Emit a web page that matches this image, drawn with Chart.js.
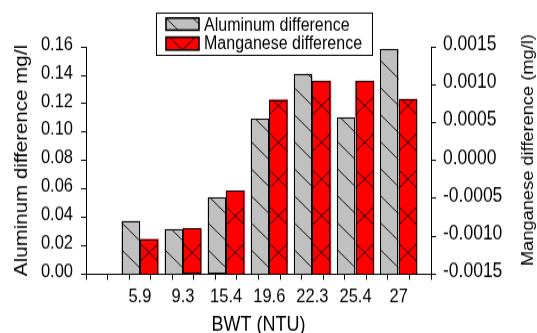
<!DOCTYPE html>
<html>
<head>
<meta charset="utf-8">
<script src="https://cdn.jsdelivr.net/npm/chart.js@4"></script>
<style>
html{margin:0;padding:0;overflow:hidden;background:#fff;}
body{margin:0;padding:0;height:333px;background:#fff;}
#chart{display:block;transform:scaleY(1.1404);transform-origin:0 0;}
</style>
</head>
<body>
<canvas id="chart" width="537" height="292"></canvas>
<script>

const categories = ["5.9","9.3","15.4","19.6","22.3","25.4","27"];
const aluminum = [0.0374,0.0315,0.0538,0.1093,0.141,0.1102,0.1584];
const manganese = [-0.00104,-0.0009,-0.0004,0.0008,0.00105,0.00105,0.00081];

const seriesLabels = ["Aluminum difference","Manganese difference"];
const leftRange = [0,0.16,0.02];
const rightRange = [-0.0015,0.0015,0.0005];

const xTitle = "BWT (NTU)";
const leftTitle = "Aluminum difference mg/l";
const rightTitle = "Manganese difference (mg/l)";

const FONT = "'Liberation Sans', Arial, sans-serif";
const K = 1/1.1404;


function diagLines(ctx, left, top, w, h, anchor, spacing){

ctx.beginPath();
for(let y0 = anchor + spacing*20; y0 > top - w*K - spacing; y0 -= spacing){
if(y0 > top + h + spacing) continue;
ctx.moveTo(left, y0);
ctx.lineTo(left + w, y0 + w*K);
}
ctx.stroke();

}


function crossLines(ctx, left, top, w, h, cx, anchor, spacing){

ctx.beginPath();
for(let yc = anchor + spacing*20; yc > top - w*K - spacing; yc -= spacing){
if(yc > top + h + w*K + spacing) continue;
ctx.moveTo(left, yc - (cx-left)*K);
ctx.lineTo(left + w, yc + (left + w - cx)*K);
ctx.moveTo(left, yc + (cx-left)*K);
ctx.lineTo(left + w, yc - (left + w - cx)*K);
}
ctx.stroke();

}


function hatch(ctx, kind, left, top, w, h, anchor){

ctx.save();
ctx.beginPath();
ctx.rect(left, top, w, h);
ctx.clip();
ctx.strokeStyle = "#000";
ctx.lineWidth = 0.9;

if(kind === "diag") diagLines(ctx, left, top, w, h, anchor, 23.7);
else crossLines(ctx, left, top, w, h, left + w/2, anchor, 32.2);

ctx.restore();

}


const hatchPlugin = {

id:"hatch",

afterDatasetsDraw(chart){

const ctx = chart.ctx;

chart.data.datasets.forEach((ds, i) => {

const meta = chart.getDatasetMeta(i);

meta.data.forEach(bar => {

const p = bar.getProps(["x","y","base","width"], true);
const left = p.x - p.width/2;
const top = Math.min(p.y, p.base);
const h = Math.abs(p.base - p.y);

if(ds.hatch === "diag") hatch(ctx, "diag", left, top, p.width, h, p.base - 21);
else hatch(ctx, "cross", left, top, p.width, h, p.base - 18.4);

ctx.save();
ctx.strokeStyle = "#000";
ctx.lineWidth = 1;
ctx.strokeRect(Math.round(left)+0.5, Math.round(top)+0.5, Math.round(p.width)-1, Math.round(h));
ctx.restore();

});

});

}

};


const legendPlugin = {

id:"boxLegend",

afterDraw(chart){

const ctx = chart.ctx;

ctx.save();
ctx.fillStyle = "#fff";
ctx.fillRect(156, 11, 216, 37);
ctx.strokeStyle = "#000";
ctx.lineWidth = 1;
ctx.strokeRect(156.5, 11.5, 216, 37);

const rows = [[15.8, 10.6, 22.4],[32.6, 11.2, 38.6]];

chart.data.datasets.forEach((ds, i) => {

const r = rows[i];

ctx.fillStyle = ds.backgroundColor;
ctx.fillRect(166, r[0], 33, r[1]);

if(ds.hatch === "diag") hatch(ctx, "diag", 166, r[0], 33, r[1], r[0]);
else hatch(ctx, "cross", 166, r[0], 33, r[1], r[0] + r[1]);

ctx.strokeStyle = "#000";
ctx.lineWidth = 1.6;
ctx.strokeRect(166, r[0], 33, r[1]);

ctx.fillStyle = "#000";
ctx.font = "16px " + FONT;
ctx.textAlign = "left";
ctx.textBaseline = "middle";
ctx.fillText(ds.label, 204, r[2]);

});

ctx.translate(529, 131.6);
ctx.rotate(-Math.PI/2);
ctx.fillStyle = "#000";
ctx.font = "16px " + FONT;
ctx.textAlign = "center";
ctx.textBaseline = "middle";
ctx.fillText(rightTitle, 0, 0);

ctx.restore();

}

};


const ctx = document.getElementById("chart").getContext("2d");

new Chart(ctx,{

type:"bar",

data:{
datasets:[
{
label:seriesLabels[0],
data:aluminum.map((v, i) => ({x:i+1, y:v})),
backgroundColor:"#c0c0c0",
borderWidth:0,
yAxisID:"y",
stack:"al",
hatch:"diag"
},
{
label:seriesLabels[1],
data:manganese.map((v, i) => ({x:i+1, y:v})),
backgroundColor:"#ff0000",
borderWidth:0,
yAxisID:"y1",
stack:"mn",
base:rightRange[0],
hatch:"cross"
}
]
},

options:{
responsive:false,
animation:false,
devicePixelRatio:1,
barThickness:18.4,
layout:{padding:{top:41.2,left:0,right:0,bottom:0}},
plugins:{
legend:{display:false},
tooltip:{enabled:false}
},
scales:{
x:{
type:"linear",
min:0,
max:7.5,
afterFit(scale){ scale.height = 51.7; },
grid:{drawOnChartArea:false,color:"#000",tickColor:"#000",tickLength:5,tickWidth:1},
border:{display:true,color:"#000",width:1},
ticks:{
stepSize:0.5,
autoSkip:false,
maxRotation:0,
padding:5,
color:"#000",
font:{family:FONT,size:16.5},
callback:(v) => (Number.isInteger(v) && v >= 1 && v <= categories.length) ? categories[v-1] : ""
},
title:{display:true,text:xTitle,color:"#000",font:{family:FONT,size:18,lineHeight:0.74},padding:{top:0,bottom:0}}
},
y:{
position:"left",
min:leftRange[0],
max:leftRange[1],
afterFit(scale){ scale.width = 86; },
grid:{drawOnChartArea:false,color:"#000",tickColor:"#000",tickLength:5,tickWidth:1},
border:{display:true,color:"#000",width:1},
ticks:{
stepSize:leftRange[2],
padding:8,
labelOffset:-2,
color:"#000",
font:{family:FONT,size:16.5},
callback:(v) => v.toFixed(2)
},
title:{display:true,text:leftTitle,color:"#000",font:{family:FONT,size:18},padding:{top:11,bottom:0}}
},
y1:{
position:"right",
min:rightRange[0],
max:rightRange[1],
afterFit(scale){ scale.width = 106; },
grid:{drawOnChartArea:false,color:"#000",tickColor:"#000",tickLength:5,tickWidth:1},
border:{display:true,color:"#000",width:1},
ticks:{
stepSize:rightRange[2],
padding:7,
labelOffset:-2,
color:"#000",
font:{family:FONT,size:17.5},
callback:(v) => v.toFixed(4)
}
}
}
},

plugins:[hatchPlugin, legendPlugin]

});

</script>
</body>
</html>
